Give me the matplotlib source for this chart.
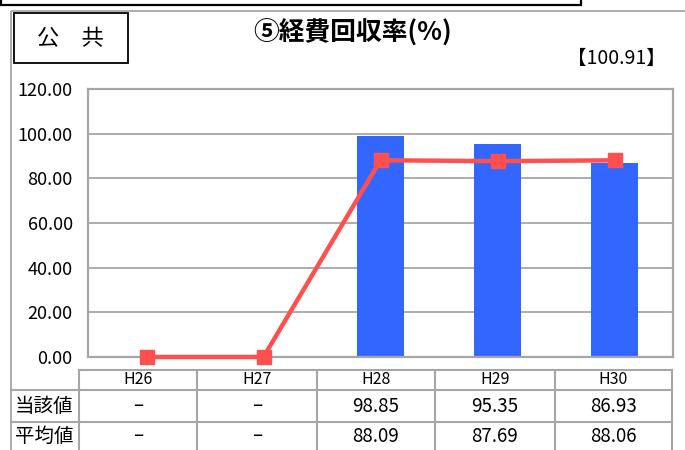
import matplotlib
matplotlib.use("Agg")
import matplotlib.pyplot as plt
from matplotlib.patches import Rectangle

plt.rcParams['font.family'] = ['Noto Sans CJK JP', 'DejaVu Sans']

# ---- data ----
years = ["H26", "H27", "H28", "H29", "H30"]
current_values = [None, None, 98.85, 95.35, 86.93]   # 当該値
average_values = [0.0, 0.0, 88.09, 87.69, 88.06]    # 平均値 (line)
average_table = [None, None, 88.09, 87.69, 88.06]
y_ticks = [0, 20, 40, 60, 80, 100, 120]
title = "⑤経費回収率(%)"
category = "公　共"
reference_value = "【100.91】"
row_labels = ["当該値", "平均値"]

W, H = 685, 450
fig = plt.figure(figsize=(W / 100, H / 100), dpi=100)

# overlay in pixel coordinates (y down) for frames, titles and the table
ov = fig.add_axes([0, 0, 1, 1], zorder=0)
ov.set_xlim(0, W)
ov.set_ylim(H, 0)
ov.axis("off")

grey = "#A6A6A6"

# frame of the panel above (only its lower edge is visible)
ov.add_patch(Rectangle((1, -20), 580, 25, fill=False, edgecolor="black", lw=1.6))
# panel border
ov.plot([11, W], [11, 11], color=grey, lw=1.3, solid_capstyle="butt")
ov.plot([11, 11], [11, H], color=grey, lw=1.3, solid_capstyle="butt")

# category box
ov.add_patch(Rectangle((14, 13), 114, 50, fill=False, edgecolor="black", lw=1.3))
ov.text(70, 39, category, ha="center", va="center", fontsize=16)

ov.text(353, 33, title, ha="center", va="center", fontsize=18.5, fontweight="bold")
ov.text(666, 58, reference_value, ha="right", va="center", fontsize=14)

# ---- chart ----
left, right, top, bottom = 88, 673, 89, 357
ax = fig.add_axes([left / W, (H - bottom) / H, (right - left) / W, (bottom - top) / H], zorder=2)
ax.patch.set_alpha(0)
x = list(range(len(years)))
bar_vals = [v if v is not None else 0 for v in current_values]
ax.bar(x, bar_vals, width=0.4, color="#3366FF", zorder=2)
ax.plot(x, average_values, color="#FF4F4F", lw=3.2, marker="s", markersize=9.5,
        zorder=3, clip_on=False)
ax.set_xlim(-0.5, len(years) - 0.5)
ax.set_ylim(0, 120)
ax.set_yticks(y_ticks)
ax.set_yticklabels([f"{v:.2f}" for v in y_ticks], fontsize=13)
ax.set_xticks([])
ax.tick_params(axis="y", length=0, pad=11)
ax.yaxis.grid(True, color=grey, lw=1.3)
ax.set_axisbelow(True)
for s in ax.spines.values():
    s.set_color(grey)
    s.set_linewidth(1.6)

# ---- data table ----
col_edges = [79, 197, 317, 435, 555, 672]
row_edges = [370, 390, 422, 452]
lw_t = 1.5
ov.plot([col_edges[0], col_edges[-1]], [row_edges[0]] * 2, color=grey, lw=lw_t)
for yy in row_edges[1:3]:
    ov.plot([11, col_edges[-1]], [yy, yy], color=grey, lw=lw_t)
for xx in col_edges:
    ov.plot([xx, xx], [row_edges[0], H], color=grey, lw=lw_t)

def fmt(v):
    return "–" if v is None else f"{v:.2f}"

for i, yr in enumerate(years):
    cx = (col_edges[i] + col_edges[i + 1]) / 2
    ov.text(cx, (row_edges[0] + row_edges[1]) / 2, yr, ha="center", va="center", fontsize=11.5)
    ov.text(cx, (row_edges[1] + row_edges[2]) / 2, fmt(current_values[i]),
            ha="center", va="center", fontsize=13.5)
    ov.text(cx, (row_edges[2] + row_edges[3]) / 2 - 1, fmt(average_table[i]),
            ha="center", va="center", fontsize=13.5)

for j, lab in enumerate(row_labels):
    ov.text(15, (row_edges[j + 1] + row_edges[j + 2]) / 2 - (1 if j else 0), lab,
            ha="left", va="center", fontsize=14)

fig.savefig("out.png", dpi=100)
